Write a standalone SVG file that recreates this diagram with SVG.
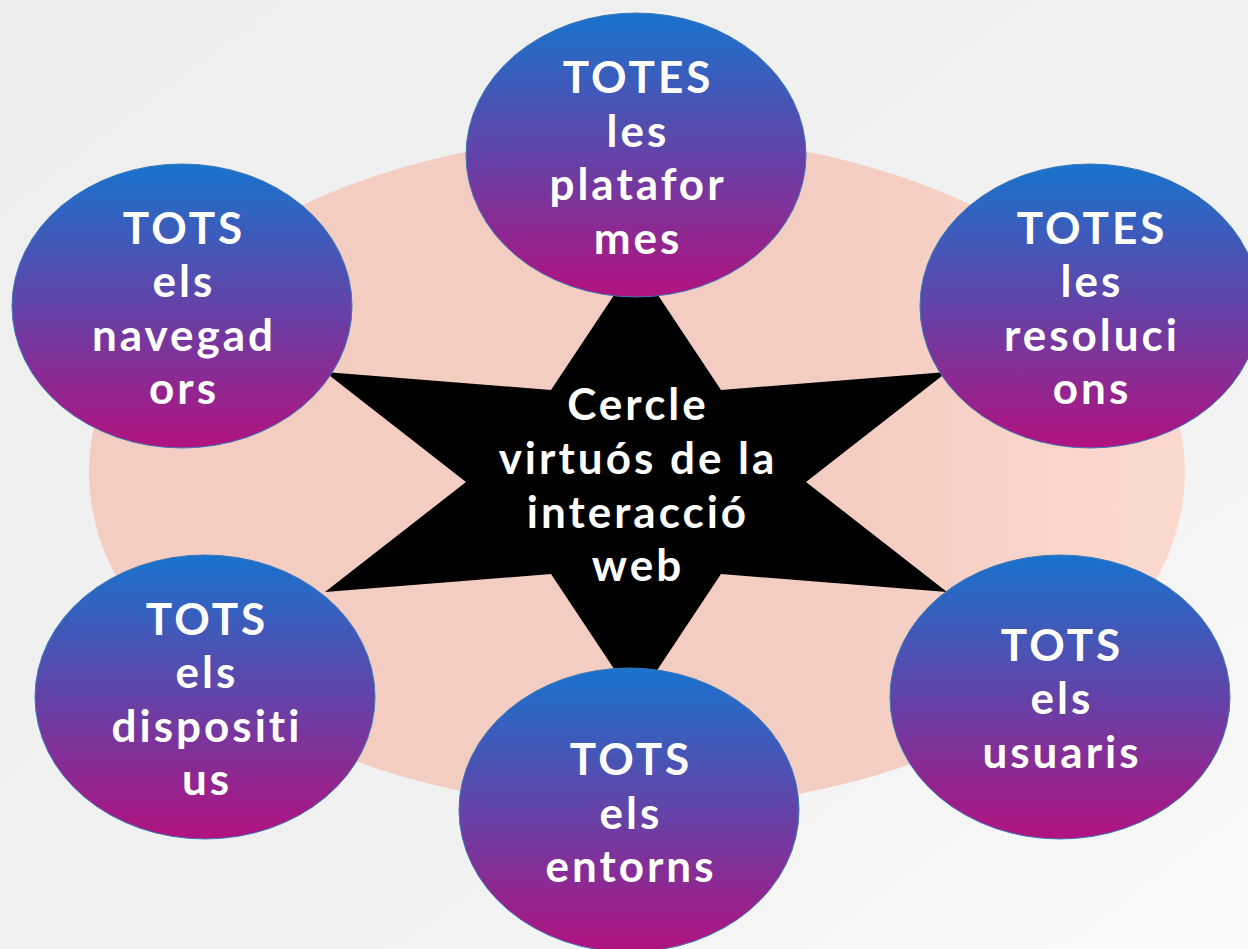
<svg xmlns="http://www.w3.org/2000/svg" width="1248" height="949" viewBox="0 0 1248 949">
<defs>
<linearGradient id="bg" x1="0" y1="0" x2="1" y2="1">
<stop offset="0" stop-color="#eeeeee"/>
<stop offset="0.6" stop-color="#f1f1f1"/>
<stop offset="1" stop-color="#fafafa"/>
</linearGradient>
<linearGradient id="pink" x1="0" y1="0" x2="1" y2="0">
<stop offset="0" stop-color="#f3cdc2"/>
<stop offset="0.7" stop-color="#f4cdc2"/>
<stop offset="1" stop-color="#fcd9cf"/>
</linearGradient>
<linearGradient id="node" x1="0" y1="0" x2="0" y2="1">
<stop offset="0" stop-color="#1873cd"/>
<stop offset="0.5" stop-color="#6343a8"/>
<stop offset="1" stop-color="#b2127f"/>
</linearGradient>
<style>
.n{fill:url(#node);stroke:#3b78b8;stroke-width:1}
.t{font-family:Lato,"Noto Sans","DejaVu Sans",sans-serif;font-weight:700;font-size:44px;letter-spacing:3px;fill:#ffffff;text-anchor:middle}
</style>
</defs>
<rect x="0" y="0" width="1248" height="949" fill="url(#bg)"/>
<ellipse id="backdrop" cx="637" cy="472" rx="548" ry="337" fill="url(#pink)"/>
<g id="connectors">
<polygon id="star" points="636,262 721,390 947,372 806,482 947,592 721,574 636,702 551,574 325,592 466,482 325,372 551,390" fill="#000000"/>
</g>
<g id="center">
<text class="t" x="638" y="420">Cercle</text>
<text class="t" x="638" y="474">virtuós de la</text>
<text class="t" x="638" y="528">interacció</text>
<text class="t" x="638" y="581">web</text>
</g>
<g id="plataformes">
<ellipse class="n" cx="636" cy="155" rx="170" ry="142"/>
<text class="t" x="638" y="93">TOTES</text>
<text class="t" x="638" y="147">les</text>
<text class="t" x="638" y="200">platafor</text>
<text class="t" x="638" y="254">mes</text>
</g>
<g id="navegadors">
<ellipse class="n" cx="182" cy="306" rx="170" ry="142"/>
<text class="t" x="184" y="244">TOTS</text>
<text class="t" x="184" y="297">els</text>
<text class="t" x="184" y="351">navegad</text>
<text class="t" x="184" y="404">ors</text>
</g>
<g id="resolucions">
<ellipse class="n" cx="1090" cy="306" rx="170" ry="142"/>
<text class="t" x="1092" y="244">TOTES</text>
<text class="t" x="1092" y="297">les</text>
<text class="t" x="1092" y="351">resoluci</text>
<text class="t" x="1092" y="404">ons</text>
</g>
<g id="dispositius">
<ellipse class="n" cx="205" cy="697" rx="170" ry="142"/>
<text class="t" x="207" y="635">TOTS</text>
<text class="t" x="207" y="688">els</text>
<text class="t" x="207" y="742">dispositi</text>
<text class="t" x="207" y="795">us</text>
</g>
<g id="usuaris">
<ellipse class="n" cx="1060" cy="697" rx="170" ry="142"/>
<text class="t" x="1062" y="661">TOTS</text>
<text class="t" x="1062" y="714">els</text>
<text class="t" x="1062" y="768">usuaris</text>
</g>
<g id="entorns">
<ellipse class="n" cx="629" cy="810" rx="170" ry="142"/>
<text class="t" x="631" y="775">TOTS</text>
<text class="t" x="631" y="829">els</text>
<text class="t" x="631" y="882">entorns</text>
</g>
</svg>
